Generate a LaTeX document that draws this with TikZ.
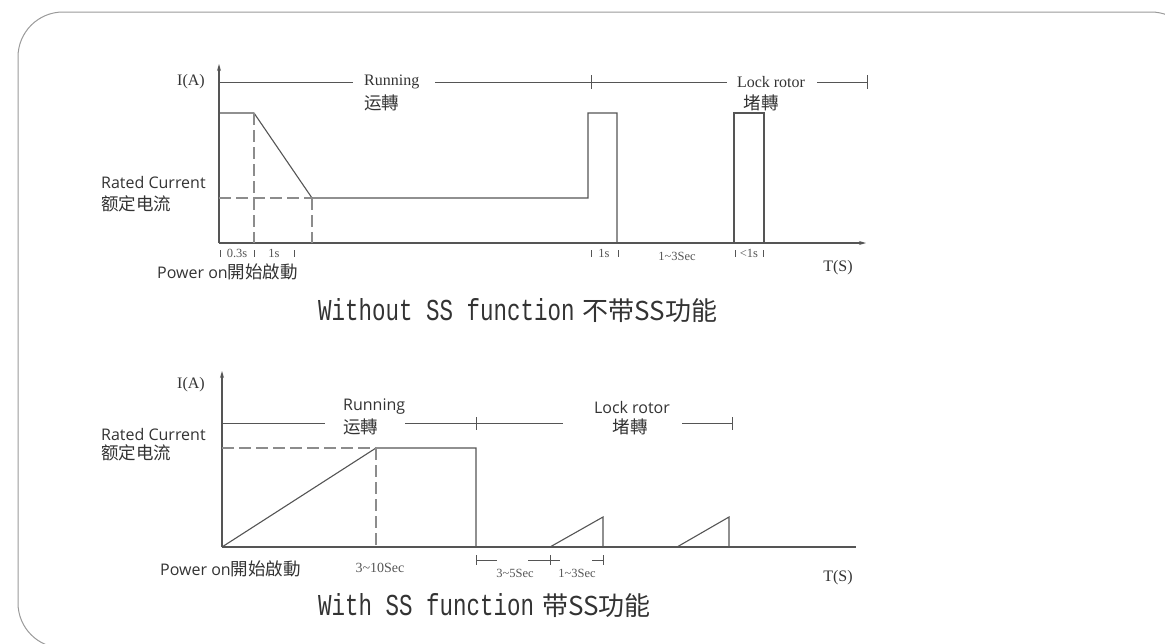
\documentclass[tikz,border=0pt]{standalone}
\usepackage{graphicx}
\usepackage{fontspec}
\setmainfont{Liberation Serif}
\newfontfamily\sansfont{Open Sans}
\newfontfamily\cjkfont{Noto Sans CJK SC}
\newfontfamily\monofont{Liberation Mono}
\usetikzlibrary{arrows.meta}
\definecolor{ssline}{HTML}{555555}
\definecolor{ssdash}{HTML}{8C8C8C}
\definecolor{sstext}{HTML}{333333}
\definecolor{ssframe}{HTML}{9A9A9A}

\begin{document}
\begin{tikzpicture}[
  x=1pt, y=-1pt,
  every node/.style={inner sep=0pt, text=sstext},
  curve/.style={ssline, line width=1.1pt},
  axisline/.style={ssline, line width=1.1pt, -{Stealth[length=7pt, width=4pt]}},
  guide/.style={ssdash, line width=1.3pt, dash pattern=on 12pt off 5pt},
  span/.style={ssline, line width=0.8pt},
  lbl/.style={font=\fontsize{16}{16}\selectfont},
  sanslbl/.style={font=\sansfont\fontsize{16}{16}\selectfont},
  cjklbl/.style={font=\cjkfont\fontsize{17.5}{17.5}\selectfont},
  small/.style={font=\fontsize{12.5}{12.5}\selectfont, text=ssline},
  title/.style={anchor=west, font=\fontsize{22.5}{22.5}\selectfont},
]
\useasboundingbox (0,0) rectangle (1165,643);

% Frame
\draw[ssframe, line width=1pt, rounded corners=45pt] (18,12) rectangle (1196,648);

% Top chart: without SS
\draw[axisline] (219,243) -- (219,64);
\draw[axisline] (219,243) -- (866,243);

\draw[span] (219,82) -- (353,82);
\draw[span] (435,82) -- (727,82);
\draw[span] (817,82) -- (867,82);
\draw[span] (591,75) -- (591,89);
\draw[span] (867,75) -- (867,89);
\draw[span, line width=1.4pt] (219,84) -- (219,100);

\node[lbl, anchor=west] (runA) at (364,82) {Running};
\node[cjklbl, anchor=west] (runAcn) at (364,103) {运轉};
\node[lbl] (lockA) at (771,82) {Lock rotor};
\node[cjklbl] (lockAcn) at (761,103) {堵轉};

\draw[curve] (219,113) -- (254,113) -- (312,198) -- (588,198) -- (588,113) -- (617,113) -- (617,243);
\draw[curve] (734,243) -- (734,113) -- (764,113) -- (764,243);

\draw[guide] (254,113) -- (254,243);
\draw[guide] (219,198) -- (312,198);
\draw[guide] (312,198) -- (312,243);

\foreach \x in {220,254,294,591,618,735,763}
  \draw[span] (\x,250) -- (\x,257);
\node[small] (t03) at (237,253) {0.3s};
\node[small] (t1a) at (274,253) {1s};
\node[small] (t1b) at (604,253) {1s};
\node[small] (t13a) at (677,256) {1\textasciitilde3Sec};
\node[small] (tlt1) at (749,253) {<1s};

\node[lbl] (iA) at (191,82) {I(A)};
\node[lbl] (tA) at (838,268) {T(S)};
\node[sanslbl, anchor=west] (rateA) at (101,182) {Rated Current};
\node[cjklbl, anchor=west] (rateAcn) at (101,204) {额定电流};
\node[anchor=west] (powerA) at (157,272) {{\sansfont\fontsize{16}{16}\selectfont Power on}{\cjkfont\fontsize{17.5}{17.5}\selectfont 開始啟動}};

\node[title] (titleA) at (318,311) {\scalebox{1}[1.35]{\monofont Without SS function}\hspace{8pt}{\cjkfont\fontsize{26}{26}\selectfont 不带SS功能}};

% Bottom chart: with SS
\draw[axisline] (222,547) -- (222,371);
\draw[curve] (222,547) -- (856,547);

\draw[span] (222,423) -- (325,423);
\draw[span] (405,423) -- (563,423);
\draw[span] (682,423) -- (732,423);
\draw[span] (476,417) -- (476,430);
\draw[span] (732,417) -- (732,430);

\node[sanslbl, anchor=west] (runB) at (343,407) {Running};
\node[cjklbl, anchor=west] (runBcn) at (343,427) {运轉};
\node[sanslbl] (lockB) at (632,407) {Lock rotor};
\node[cjklbl] (lockBcn) at (630,427) {堵轉};

\draw[curve] (222,547) -- (376,448) -- (476,448) -- (476,547);
\draw[curve] (550,547) -- (603,517) -- (603,547);
\draw[curve] (677,547) -- (729,517) -- (729,547);

\draw[guide] (222,448) -- (376,448);
\draw[guide] (376,448) -- (376,547);

\draw[span] (476,560) -- (497,560);
\draw[span] (528,560) -- (560,560);
\draw[span] (592,560) -- (603,560);
\foreach \x in {476,550,603}
  \draw[span] (\x,555) -- (\x,565);
\node[small] (t35) at (515,573) {3\textasciitilde5Sec};
\node[small] (t13b) at (577,573) {1\textasciitilde3Sec};
\node[small, font=\fontsize{14}{14}\selectfont] (t310) at (380,568) {3\textasciitilde10Sec};

\node[lbl] (iB) at (191,385) {I(A)};
\node[lbl] (tB) at (838,578) {T(S)};
\node[sanslbl, anchor=west] (rateB) at (101,434) {Rated Current};
\node[cjklbl, anchor=west] (rateBcn) at (101,453) {额定电流};
\node[anchor=west] (powerB) at (160,569) {{\sansfont\fontsize{16}{16}\selectfont Power on}{\cjkfont\fontsize{17.5}{17.5}\selectfont 開始啟動}};

\node[title] (titleB) at (318,606) {\scalebox{1}[1.35]{\monofont With SS function}\hspace{8pt}{\cjkfont\fontsize{26}{26}\selectfont 带SS功能}};

\end{tikzpicture}
\end{document}
